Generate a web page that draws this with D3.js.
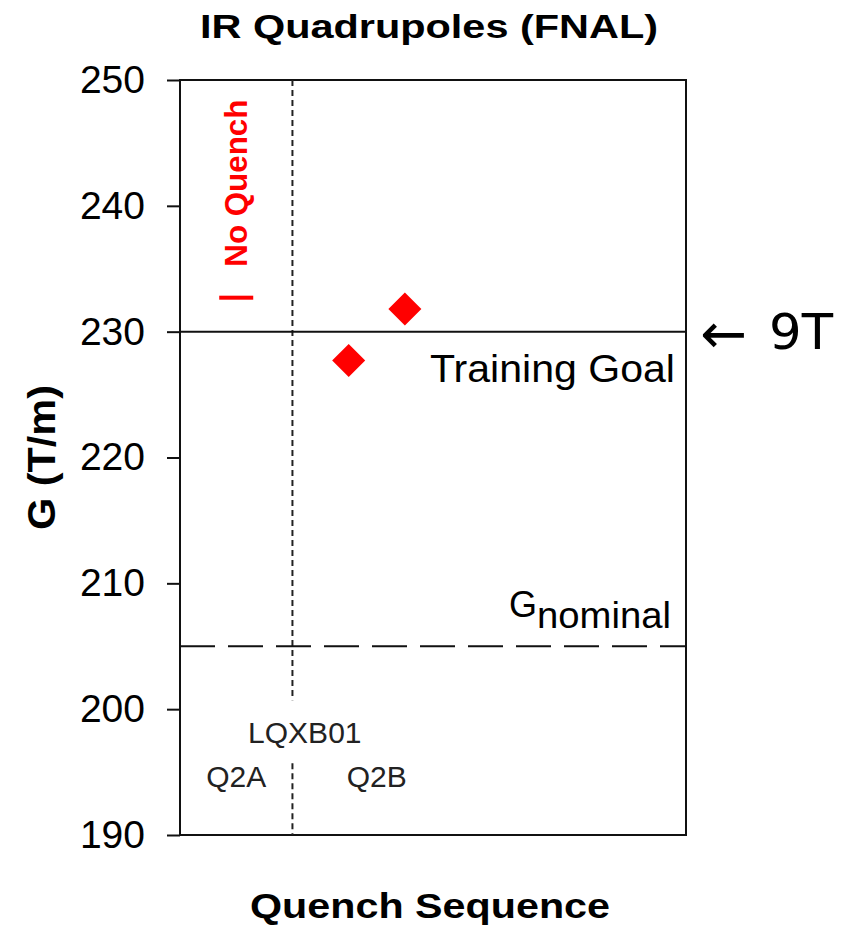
<!DOCTYPE html>
<html>
<head>
<meta charset="utf-8">
<script src="https://cdn.jsdelivr.net/npm/d3@7"></script>
<style>
  body { margin: 0; background: #fff; }
</style>
</head>
<body>
<div class="canvas"></div>
<script>
// quench data (sequence number -> gradient G in T/m)
const quenchSeq = [3, 4];
const quenchG = [227.7, 231.8];
const noQuenchSeq = [1];
const noQuenchG = [232.7];
const magnetSplit = 2;          // boundary between Q2A and Q2B
const magnetLabels = ['Q2A', 'Q2B'];
const magnetLabelSeq = [1, 3.5];
const yTicks = [190, 200, 210, 220, 230, 240, 250];
const trainingGoal = 230;
const gNominal = 205;

const dims = {width: 846, height: 927};
const plot = {left: 180, right: 686, top: 80, bottom: 835};
const sans = '"Liberation Sans", Arial, sans-serif';

const svg = d3.select('.canvas')
    .append('svg')
    .attr('width', dims.width)
    .attr('height', dims.height)
    .attr('font-family', sans);

const x = d3.scaleLinear().domain([0, 9]).range([plot.left, plot.right]);
const y = d3.scaleLinear().domain([190, 250]).range([plot.bottom, plot.top]);

// y axis
const yAxis = d3.axisLeft(y)
    .tickValues(yTicks)
    .tickSize(13)
    .tickPadding(22);

const yg = svg.append('g')
    .attr('transform', `translate(${plot.left},0)`)
    .call(yAxis)
    .attr('font-family', sans)
    .attr('font-size', 39);
yg.select('.domain').remove();
yg.selectAll('line').attr('stroke', '#111').attr('stroke-width', 2);
yg.selectAll('text').attr('fill', '#000');

// frame
svg.append('rect')
    .attr('x', plot.left)
    .attr('y', plot.top)
    .attr('width', plot.right - plot.left)
    .attr('height', plot.bottom - plot.top)
    .attr('fill', 'none')
    .attr('stroke', '#111')
    .attr('stroke-width', 2);

// magnet boundary (dotted), gap around the LQXB01 label
const splitSegments = [[250, 200.7], [195.7, 190]];
svg.selectAll('.split')
    .data(splitSegments)
    .enter()
    .append('line')
    .attr('class', 'split')
    .attr('x1', x(magnetSplit))
    .attr('x2', x(magnetSplit))
    .attr('y1', d => y(d[0]))
    .attr('y2', d => y(d[1]))
    .attr('stroke', '#222')
    .attr('stroke-width', 2)
    .attr('stroke-dasharray', '6,4');

// training goal line
svg.append('line')
    .attr('x1', plot.left).attr('x2', plot.right)
    .attr('y1', y(trainingGoal)).attr('y2', y(trainingGoal))
    .attr('stroke', '#111')
    .attr('stroke-width', 2);

// nominal gradient line
svg.append('line')
    .attr('x1', plot.left).attr('x2', plot.right)
    .attr('y1', y(gNominal)).attr('y2', y(gNominal))
    .attr('stroke', '#111')
    .attr('stroke-width', 2)
    .attr('stroke-dasharray', '35,13');

// quench points
const quenchData = quenchSeq.map((s, i) => ({seq: s, g: quenchG[i]}));
svg.selectAll('.pt')
    .data(quenchData)
    .enter()
    .append('path')
    .attr('class', 'pt')
    .attr('d', d3.symbol(d3.symbolSquare, 545))
    .attr('transform', d => `translate(${x(d.seq)},${y(d.g)}) rotate(45)`)
    .attr('fill', '#ff0000');

// no-quench ramps (dash marker)
const noQuenchData = noQuenchSeq.map((s, i) => ({seq: s, g: noQuenchG[i]}));
svg.selectAll('.nq')
    .data(noQuenchData)
    .enter()
    .append('rect')
    .attr('class', 'nq')
    .attr('x', d => x(d.seq) - 17)
    .attr('y', d => y(d.g) - 2)
    .attr('width', 34)
    .attr('height', 4)
    .attr('fill', '#ff0000');

svg.append('text')
    .attr('transform', `translate(${x(noQuenchSeq[0]) + 11},${y(noQuenchG[0]) - 31}) rotate(-90)`)
    .attr('font-size', 32)
    .attr('font-weight', 'bold')
    .attr('fill', '#ff0000')
    .attr('textLength', 167)
    .attr('lengthAdjust', 'spacingAndGlyphs')
    .text('No Quench');

// labels inside plot
svg.append('text')
    .attr('x', 675).attr('y', y(trainingGoal) + 50)
    .attr('text-anchor', 'end')
    .attr('font-size', 38)
    .attr('textLength', 245)
    .attr('lengthAdjust', 'spacingAndGlyphs')
    .text('Training Goal');

const gnom = svg.append('text')
    .attr('x', 509).attr('y', y(gNominal) - 29)
    .attr('font-size', 36);
gnom.append('tspan').text('G');
gnom.append('tspan')
    .attr('dy', 11)
    .attr('font-size', 36)
    .attr('textLength', 134)
    .attr('lengthAdjust', 'spacingAndGlyphs')
    .text('nominal');

svg.append('text')
    .attr('x', x(2.22)).attr('y', y(197.3))
    .attr('text-anchor', 'middle')
    .attr('font-size', 30)
    .attr('fill', '#222')
    .text('LQXB01');

svg.selectAll('.mag')
    .data(magnetLabels)
    .enter()
    .append('text')
    .attr('class', 'mag')
    .attr('x', (d, i) => x(magnetLabelSeq[i]))
    .attr('y', y(193.8))
    .attr('text-anchor', 'middle')
    .attr('font-size', 30)
    .attr('fill', '#222')
    .text(d => d);

// 9T arrow
svg.append('text')
    .attr('x', 700).attr('y', y(trainingGoal) + 21)
    .attr('font-family', '"DejaVu Sans", sans-serif')
    .attr('font-size', 56)
    .text('\u2190');
svg.append('text')
    .attr('x', 769).attr('y', y(trainingGoal) + 17)
    .attr('font-family', '"DejaVu Sans", sans-serif')
    .attr('font-size', 49)
    .attr('textLength', 64)
    .attr('lengthAdjust', 'spacingAndGlyphs')
    .text('9T');

// titles
svg.append('text')
    .attr('x', 200).attr('y', 38)
    .attr('font-size', 34)
    .attr('font-weight', 'bold')
    .attr('textLength', 458)
    .attr('lengthAdjust', 'spacingAndGlyphs')
    .text('IR Quadrupoles (FNAL)');

svg.append('text')
    .attr('x', 250).attr('y', 918)
    .attr('font-size', 35)
    .attr('font-weight', 'bold')
    .attr('textLength', 360)
    .attr('lengthAdjust', 'spacingAndGlyphs')
    .text('Quench Sequence');

svg.append('text')
    .attr('transform', 'translate(55,530) rotate(-90)')
    .attr('font-size', 38)
    .attr('font-weight', 'bold')
    .attr('textLength', 145)
    .attr('lengthAdjust', 'spacingAndGlyphs')
    .text('G (T/m)');
</script>
</body>
</html>
